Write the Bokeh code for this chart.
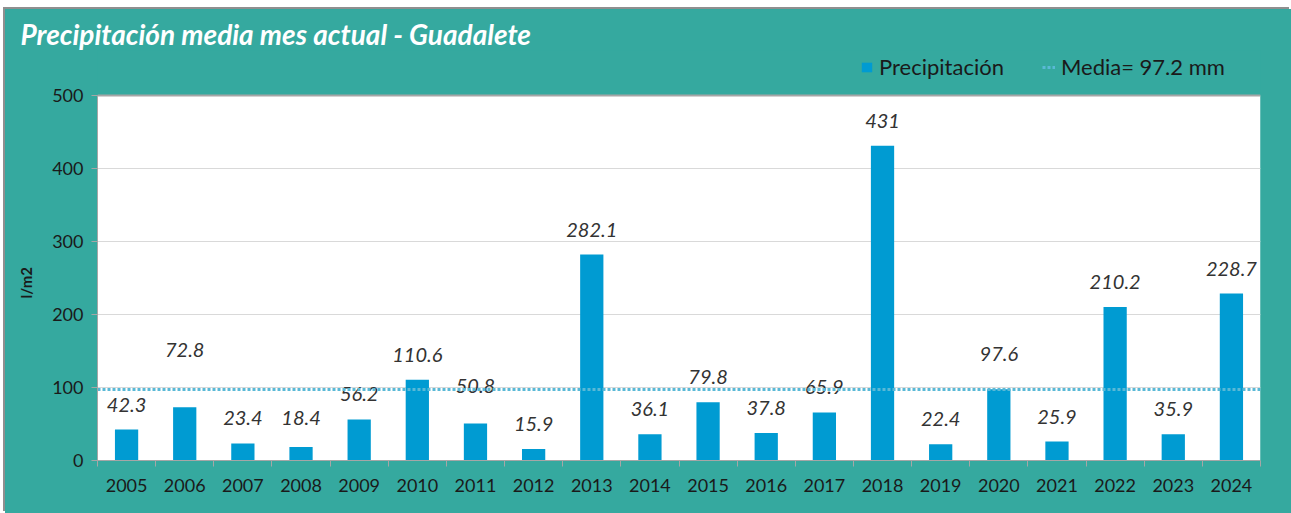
from bokeh.plotting import figure
from bokeh.models import (Range1d, LinearAxis, FixedTicker, ColumnDataSource, Span,
                          Legend, LegendItem)
from bokeh.embed import file_html
from bokeh.resources import INLINE
from bokeh.core.properties import value

years = ["2005", "2006", "2007", "2008", "2009", "2010", "2011", "2012", "2013", "2014",
         "2015", "2016", "2017", "2018", "2019", "2020", "2021", "2022", "2023", "2024"]
precip = [42.3, 72.8, 23.4, 18.4, 56.2, 110.6, 50.8, 15.9, 282.1, 36.1,
          79.8, 37.8, 65.9, 431, 22.4, 97.6, 25.9, 210.2, 35.9, 228.7]
label_lift = [0, 32, 0, 4, 0, 0, 12, 0, 0, 0, 0, 0, 0, 0, 0, 10, 0, 0, 0, 0]
media = 97.2
y_ticks = [0, 100, 200, 300, 400, 500]

TEAL = "#35A99F"
BAR = "#009BD2"
FONT = "Lato"

n = len(years)
y_top = y_ticks[-1]
xs = [i + 0.5 for i in range(n)]
labels = [("%g" % v) for v in precip]
src = ColumnDataSource(dict(x=xs, top=precip, lab=labels,
                            yoff=[-(25 + l) for l in label_lift]))

# frame extends above the value area (teal band holds the legend)
p = figure(width=1286, height=504, output_backend="svg", toolbar_location=None,
           x_range=Range1d(0, n), y_range=Range1d(0, y_top * 410 / 365),
           min_border_left=92, min_border_right=31, min_border_top=41, min_border_bottom=53,
           x_axis_type=None, y_axis_type=None)
p.margin = (9, 0, 0, 5)
p.styles = {"background-color": TEAL, "box-shadow": "-2px -2px 0 0 #8f8f8f"}
p.border_fill_color = TEAL
p.background_fill_color = None
p.outline_line_color = None

p.title.text = "Precipitación media mes actual - Guadalete"
p.title.text_font = FONT
p.title.text_font_style = "bold italic"
p.title.text_font_size = "28px"
p.title.text_color = "white"
p.title.align = "left"
p.title.offset = -77
p.title.standoff = 0

p.quad(left=0, right=n, bottom=0, top=y_top, fill_color="white", line_color=None,
       level="underlay")

for t in y_ticks[1:]:
    p.add_layout(Span(location=t, dimension="width",
                      line_color="#D9D9D9" if t < y_top else "#A6A6A6",
                      line_width=1 if t < y_top else 2, level="underlay"))

bars = p.vbar(x="x", top="top", width=0.4, bottom=0, source=src, fill_color=BAR,
              line_color=None)
p.text(x="x", y="top", text="lab", y_offset="yoff", source=src, text_align="center",
       text_baseline="middle", text_font=value(FONT), text_font_style="italic",
       text_font_size="20px", text_color="#333333")

mline = p.line(x=[0, n], y=[media, media], line_color="#5AB9D6", line_width=3,
               line_dash="3 2")

yaxis = LinearAxis(ticker=FixedTicker(ticks=y_ticks), bounds=(0, y_top))
yaxis.axis_line_color = "#A6A6A6"
yaxis.major_tick_line_color = "#A6A6A6"
yaxis.major_tick_out = 6
yaxis.major_tick_in = 0
yaxis.minor_tick_line_color = None
yaxis.major_label_text_font = FONT
yaxis.major_label_text_font_size = "18px"
yaxis.major_label_text_color = "#1a1a1a"
yaxis.major_label_standoff = 8
# trailing no-break spaces keep the label centred on the 0-500 value band
yaxis.axis_label = "l/m2" + "\u00a0" * 15
yaxis.axis_label_text_font = FONT
yaxis.axis_label_text_font_style = "bold"
yaxis.axis_label_text_font_size = "15px"
yaxis.axis_label_text_color = "#1a1a1a"
yaxis.axis_label_standoff = 14
p.add_layout(yaxis, "left")

xaxis = LinearAxis(ticker=FixedTicker(ticks=xs, minor_ticks=list(range(n + 1))))
xaxis.major_label_overrides = {x: y for x, y in zip(xs, years)}
xaxis.axis_line_color = "#A6A6A6"
xaxis.major_tick_line_color = None
xaxis.minor_tick_line_color = "#A6A6A6"
xaxis.minor_tick_out = 6
xaxis.minor_tick_in = 0
xaxis.major_label_text_font = FONT
xaxis.major_label_text_font_size = "18px"
xaxis.major_label_text_color = "#1a1a1a"
xaxis.major_label_standoff = 12
p.add_layout(xaxis, "below")

legend = Legend(items=[LegendItem(label="Precipitación", renderers=[bars]),
                       LegendItem(label="Media= 97.2 mm", renderers=[mline])],
                orientation="horizontal", location=(763, 380),
                background_fill_alpha=0, border_line_color=None,
                label_text_font=FONT, label_text_font_size="22px",
                label_text_color="#1a1a1a", glyph_width=13, glyph_height=12,
                spacing=38, label_standoff=6, padding=0, margin=0)
p.add_layout(legend, "center")

open("out.html", "w").write(file_html(p, INLINE))
